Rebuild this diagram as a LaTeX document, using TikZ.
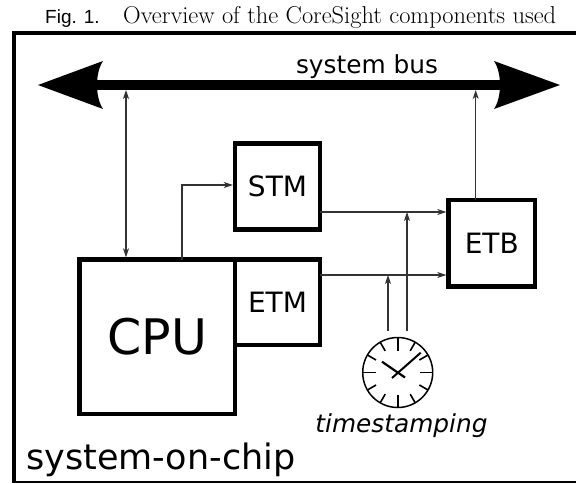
\documentclass[tikz,border=0pt]{standalone}
\usepackage{fontspec}
\setmainfont{DejaVu Sans}
\newfontfamily\capsf{Liberation Sans}
\newfontfamily\capserif{Latin Modern Roman}
\usetikzlibrary{arrows.meta,calc}
\tikzset{
  x=1pt,y=-1pt,
  block/.style={draw=black,line width=4.4pt,inner sep=0pt,outer sep=0pt,text=black,font=\fontsize{28}{28}\selectfont},
  wire/.style={line width=1.1pt,draw=black!80,-{Stealth[length=9pt,width=6pt,inset=2.5pt]}},
  lab/.style={inner sep=0pt,anchor=base,text=black},
  clocktick/.style={line width=1.6pt},
}
\begin{document}
\begin{tikzpicture}
\useasboundingbox (0,0) rectangle (576,483);
\fill[white] (0,0) rectangle (576,483);
% frame
\draw[line width=4.4pt] (14,481) -- (14,33) -- (576,33);
\draw[line width=1.8pt] (12,481.8) -- (576,481.8);
% bus
\coordinate (busA) at (126,90);
\coordinate (busB) at (475.7,90);
\draw[line width=10pt] (96,85) -- (501,85);
\fill (38,85) -- (103,61) .. controls (95,73) and (95,97) .. (103,109) -- cycle;
\fill (560,85) -- (494,61) .. controls (502,73) and (502,97) .. (494,109) -- cycle;
% blocks
\node[block,minimum width=155.5pt,minimum height=154.5pt,font=\fontsize{49}{49}\selectfont] (cpu) at (157.25,336.75) {CPU};
\node[block,minimum width=85pt,minimum height=85.5pt] (etm) at (277.5,302.25) {ETM};
\node[block,minimum width=85pt,minimum height=86pt] (stm) at (277.5,186.5) {STM};
\node[block,minimum width=86.5pt,minimum height=86.5pt] (etb) at (491.75,243.25) {ETB};
% free ends
\coordinate (wireA) at (126,0);
\coordinate (wireB) at (182,0);
\coordinate (bend) at (182,185);
\coordinate (y1) at (0,212);
\coordinate (y2) at (0,275);
\coordinate (clkA) at (388,331);
\coordinate (clkB) at (407,331);
% wires
\draw[wire,{Stealth[length=9pt,width=6pt,inset=2.5pt]}-{Stealth[length=9pt,width=6pt,inset=2.5pt]},shorten >=2.2pt] (busA) -- (cpu.north -| wireA);
\draw[wire,shorten >=2.2pt] (cpu.north -| wireB) -- (bend) -- (stm.west |- bend);
\draw[wire,shorten >=2.2pt] (stm.east |- y1) -- (etb.west |- y1);
\draw[wire,shorten >=2.2pt] (etm.east |- y2) -- (etb.west |- y2);
\draw[wire] (etb.north -| busB) -- (busB);
\draw[wire] (clkA) -- (clkA |- y2);
\draw[wire] (clkB) -- (clkB |- y1);
% clock
\node[circle,draw,line width=1.5pt,minimum size=70pt,inner sep=0pt,outer sep=0pt] (clock) at (397.7,372.5) {};
\foreach \a in {0,30,...,330}{
  \pgfmathsetmacro{\len}{mod(\a,90)==0?13:10}
  \draw[clocktick] ($(clock.center)+(\a:35)$) -- ($(clock.center)+(\a:35-\len)$);
}
\draw[line width=2pt] (392,378) -- (420.7,352.7);
\draw[line width=2.2pt] (405,377.5) -- (382,361.7);
% labels
\node[lab,font=\fontsize{24.8}{25}\selectfont] (bus) at (367,73) {system bus};
\node[lab,font=\itshape\fontsize{24.8}{25}\selectfont] (ts) at (401.5,432) {timestamping};
\node[lab,anchor=base west,font=\fontsize{35}{35}\selectfont] (soc) at (26,469) {system-on-chip};
\node[lab,anchor=base west,font=\capsf\fontsize{19}{19}\selectfont] (fig) at (45,23) {Fig. 1.};
\node[lab,anchor=base west,font=\capserif\fontsize{24.4}{24}\selectfont] (cap) at (123,23) {Overview of the CoreSight components used};
\end{tikzpicture}
\end{document}
